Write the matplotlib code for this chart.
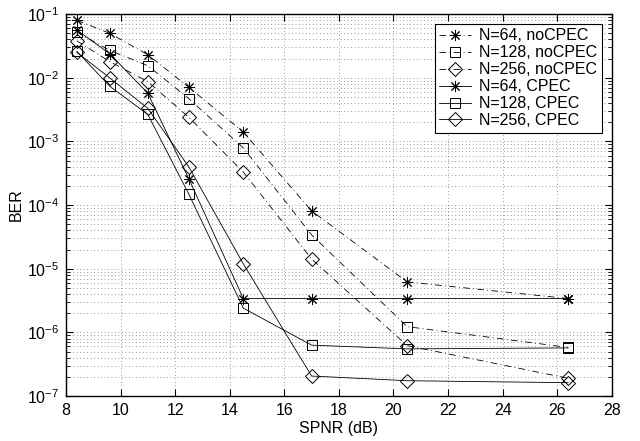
import numpy as np
import matplotlib
matplotlib.use("Agg")
import matplotlib.pyplot as plt
from matplotlib.ticker import LogLocator, NullFormatter

plt.rcParams['font.family'] = ['Liberation Sans', 'DejaVu Sans']

# SPNR points (dB)
snr = [8.4, 9.6, 11.0, 12.5, 14.5, 17.0, 20.5, 26.4]

# BER values
ber_64_no = [8.0e-2, 5.0e-2, 2.3e-2, 7.1e-3, 1.4e-3, 8.1e-5, 6.2e-6, 3.4e-6]
ber_128_no = [5.2e-2, 2.7e-2, 1.55e-2, 4.7e-3, 7.9e-4, 3.4e-5, 1.23e-6, 5.8e-7]
ber_256_no = [3.8e-2, 1.8e-2, 8.7e-3, 2.4e-3, 3.3e-4, 1.42e-5, 6.2e-7, 1.9e-7]
ber_64_c = [5.6e-2, 2.4e-2, 5.7e-3, 2.6e-4, 3.4e-6, 3.4e-6, 3.4e-6, 3.4e-6]
ber_128_c = [2.6e-2, 7.4e-3, 2.65e-3, 1.49e-4, 2.4e-6, 6.3e-7, 5.5e-7, 5.7e-7]
ber_256_c = [2.5e-2, 1.0e-2, 3.3e-3, 4.0e-4, 1.19e-5, 2.06e-7, 1.74e-7, 1.62e-7]

labels = ["N=64, noCPEC", "N=128, noCPEC", "N=256, noCPEC",
          "N=64, CPEC", "N=128, CPEC", "N=256, CPEC"]

fig = plt.figure(figsize=(6.4, 4.41), dpi=100)
ax = fig.add_axes([0.103, 0.102, 0.853, 0.866])

dashdot = (0, (8, 4, 1, 4))
star = (8, 2, 0)
series = [
    (ber_64_no, star, dashdot, 8),
    (ber_128_no, 's', dashdot, 7),
    (ber_256_no, 'D', dashdot, 7),
    (ber_64_c, star, '-', 8),
    (ber_128_c, 's', '-', 7),
    (ber_256_c, 'D', '-', 7),
]
for (y, m, ls, ms), lab in zip(series, labels):
    ax.semilogy(snr, y, color='k', linestyle=ls, linewidth=0.6, marker=m,
                markersize=ms, markerfacecolor='none', markeredgecolor='k',
                markeredgewidth=0.7, label=lab)

ax.set_xlim(8, 28)
ax.set_ylim(1e-7, 1e-1)
ax.set_xticks(np.arange(8, 29, 2))
ax.yaxis.set_major_locator(LogLocator(base=10, numticks=10))
ax.yaxis.set_minor_locator(LogLocator(base=10, subs=np.arange(2, 10), numticks=100))
ax.yaxis.set_minor_formatter(NullFormatter())

gridstyle = dict(linestyle=(0, (1, 4)), color='0.25', linewidth=0.5)
ax.grid(True, which='major', axis='both', **gridstyle)
ax.grid(True, which='minor', axis='y', **gridstyle)

ax.tick_params(which='both', direction='in', top=True, right=True, labelsize=11.5)
ax.tick_params(which='major', length=5, pad=5)
ax.tick_params(which='minor', length=3)
for s in ax.spines.values():
    s.set_linewidth(1.0)

ax.set_xlabel("SPNR (dB)", fontsize=11.5, labelpad=2)
ax.set_ylabel("BER", fontsize=11.5, labelpad=2)

leg = ax.legend(loc='upper right', fontsize=11.5, frameon=True, fancybox=False,
                edgecolor='k', framealpha=1, borderaxespad=0.6,
                handlelength=2.0, handletextpad=0.5, labelspacing=0.12,
                borderpad=0.3)
leg.get_frame().set_linewidth(0.8)

fig.savefig("out.png", dpi=100)
